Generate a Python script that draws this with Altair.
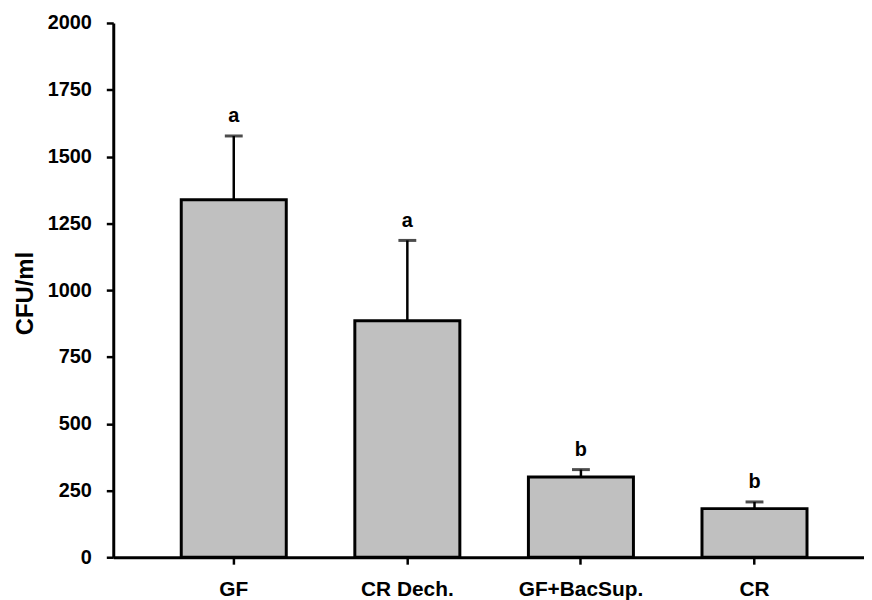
import altair as alt
import pandas as pd

categories = ["GF", "CR Dech.", "GF+BacSup.", "CR"]
means = [1338, 885, 300, 182]
errors = [239, 301, 28, 25]
letters = ["a", "a", "b", "b"]

df = pd.DataFrame({
    "cat": categories,
    "mean": means,
    "err": errors,
    "letter": letters,
})
df["upper"] = df["mean"] + df["err"]

FONT = "Liberation Sans"

xscale = alt.Scale(domain=categories, paddingInner=0.395, paddingOuter=0.36, align=0.544)
yscale = alt.Scale(domain=[0, 2000], nice=False)

x = alt.X("cat:N", scale=xscale, sort=categories, title=None,
          axis=alt.Axis(labelAngle=0, labelFont=FONT, labelFontSize=21, labelFontWeight="bold",
                        labelColor="black", tickSize=7, tickWidth=2.5, tickColor="black",
                        domainColor="black", domainWidth=3, labelPadding=15))

bars = alt.Chart(df).mark_bar(fill="#c0c0c0", stroke="black", strokeWidth=3).encode(
    x=x,
    y=alt.Y("mean:Q", scale=yscale, title="CFU/ml",
            axis=alt.Axis(values=list(range(0, 2001, 250)), format="d", labelFont=FONT, labelFontSize=20,
                          labelFontWeight="bold", labelColor="black", tickSize=7, tickWidth=2.5,
                          tickColor="black", domainColor="black", domainWidth=3, grid=False,
                          labelPadding=15, titleFont=FONT, titleFontSize=24, titleFontWeight="bold",
                          titleColor="black", titleX=-88, titleY=272, titleBaseline="middle",
                          titleAngle=270)),
)

rules = alt.Chart(df).mark_rule(color="black", strokeWidth=2.5).encode(
    x=alt.X("cat:N", scale=xscale, sort=categories),
    y=alt.Y("mean:Q", scale=yscale),
    y2="upper:Q",
)

caps = alt.Chart(df).mark_tick(color="black", thickness=3, size=18, orient="horizontal").encode(
    x=alt.X("cat:N", scale=xscale, sort=categories),
    y=alt.Y("upper:Q", scale=yscale),
)

texts = alt.Chart(df).mark_text(font=FONT, fontSize=20, fontWeight="bold", color="black",
                                baseline="middle", dy=-20).encode(
    x=alt.X("cat:N", scale=xscale, sort=categories),
    y=alt.Y("upper:Q", scale=yscale),
    text="letter:N",
)

chart = alt.layer(bars, rules, caps, texts).properties(
    width=756, height=538,
    autosize=alt.AutoSizeParams(type="none"),
    padding={"left": 106, "top": 13, "right": 0, "bottom": 43},
).configure_view(stroke=None)

chart.save("out.html", embed_options={"renderer": "svg", "actions": False})
